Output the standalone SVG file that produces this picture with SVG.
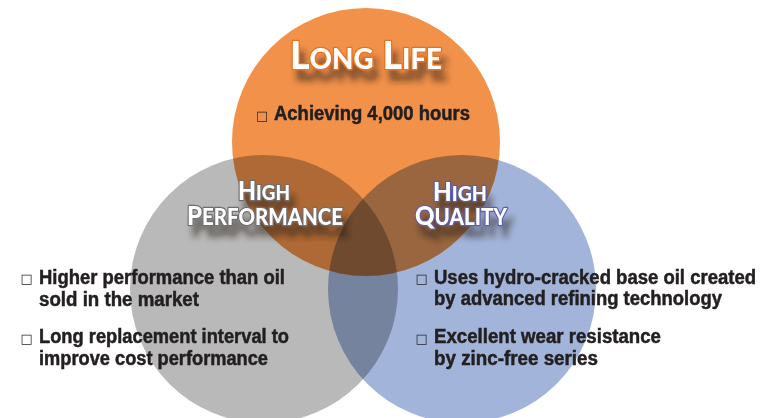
<svg xmlns="http://www.w3.org/2000/svg" width="761" height="418" viewBox="0 0 761 418">
<style>
.c{mix-blend-mode:multiply}
.t{font-family:"Lato","Open Sans","DejaVu Sans",sans-serif;font-weight:900;fill:#fff;stroke-width:2.6;paint-order:stroke fill;stroke-linejoin:round}
.b{font-family:"Liberation Sans",Arial,sans-serif;font-weight:bold;font-size:20px;fill:#231f20;stroke:#231f20;stroke-width:0.5}
.u{font-family:"DejaVu Sans",sans-serif;font-size:13px;fill:#231f20}
</style>
<defs>
<filter id="sh" x="-20%" y="-50%" width="140%" height="250%">
<feGaussianBlur in="SourceAlpha" stdDeviation="3"/>
<feOffset dx="5" dy="11" result="o"/>
<feFlood flood-color="#2a2018" flood-opacity="0.55"/>
<feComposite in2="o" operator="in" result="s"/>
<feMerge><feMergeNode in="s"/><feMergeNode in="SourceGraphic"/></feMerge>
</filter>
</defs>
<rect width="761" height="418" fill="#fff"/>
<g id="long-life">
<circle class="c" cx="366" cy="142" r="134" fill="#f2914a"/>
<text class="t" x="290" y="69" textLength="152" lengthAdjust="spacingAndGlyphs" stroke="#e8711e" filter="url(#sh)"><tspan font-size="38">L</tspan><tspan font-size="28">ONG</tspan><tspan font-size="38"> L</tspan><tspan font-size="28">IFE</tspan></text>
<text class="u" x="256" y="119.5">□</text>
<text class="b" x="274" y="120" textLength="196" lengthAdjust="spacingAndGlyphs">Achieving 4,000 hours</text>
</g>
<g id="high-performance">
<circle class="c" cx="264" cy="289" r="134" fill="#b9b9b9"/>
<g filter="url(#sh)">
<text class="t" x="238" y="200" textLength="52" lengthAdjust="spacingAndGlyphs" stroke="#6e6e6e"><tspan font-size="26">H</tspan><tspan font-size="21">IGH</tspan></text>
<text class="t" x="187" y="225" textLength="156" lengthAdjust="spacingAndGlyphs" stroke="#6e6e6e"><tspan font-size="27">P</tspan><tspan font-size="23">ERFORMANCE</tspan></text>
</g>
<text class="u" x="20.5" y="283">□</text>
<text class="b" x="39" y="283.5" textLength="246" lengthAdjust="spacingAndGlyphs">Higher performance than oil</text>
<text class="b" x="39" y="305.5" textLength="160" lengthAdjust="spacingAndGlyphs">sold in the market</text>
<text class="u" x="20.5" y="342.8">□</text>
<text class="b" x="39" y="343.3" textLength="250" lengthAdjust="spacingAndGlyphs">Long replacement interval to</text>
<text class="b" x="39" y="365" textLength="229" lengthAdjust="spacingAndGlyphs">improve cost performance</text>
</g>
<g id="high-quality">
<circle class="c" cx="462" cy="289" r="134" fill="#a2b4da"/>
<g filter="url(#sh)">
<text class="t" x="433" y="201" textLength="54" lengthAdjust="spacingAndGlyphs" stroke="#5a5fa8"><tspan font-size="26">H</tspan><tspan font-size="21">IGH</tspan></text>
<text class="t" x="415" y="225" textLength="92" lengthAdjust="spacingAndGlyphs" stroke="#5a5fa8"><tspan font-size="27">Q</tspan><tspan font-size="23">UALITY</tspan></text>
</g>
<text class="u" x="415.5" y="283">□</text>
<text class="b" x="434" y="283.5" textLength="322" lengthAdjust="spacingAndGlyphs">Uses hydro-cracked base oil created</text>
<text class="b" x="434" y="305" textLength="288" lengthAdjust="spacingAndGlyphs">by advanced refining technology</text>
<text class="u" x="415.5" y="342.8">□</text>
<text class="b" x="434" y="343.3" textLength="227" lengthAdjust="spacingAndGlyphs">Excellent wear resistance</text>
<text class="b" x="434" y="365" textLength="164" lengthAdjust="spacingAndGlyphs">by zinc-free series</text>
</g>
<g id="connectors"></g>
</svg>
